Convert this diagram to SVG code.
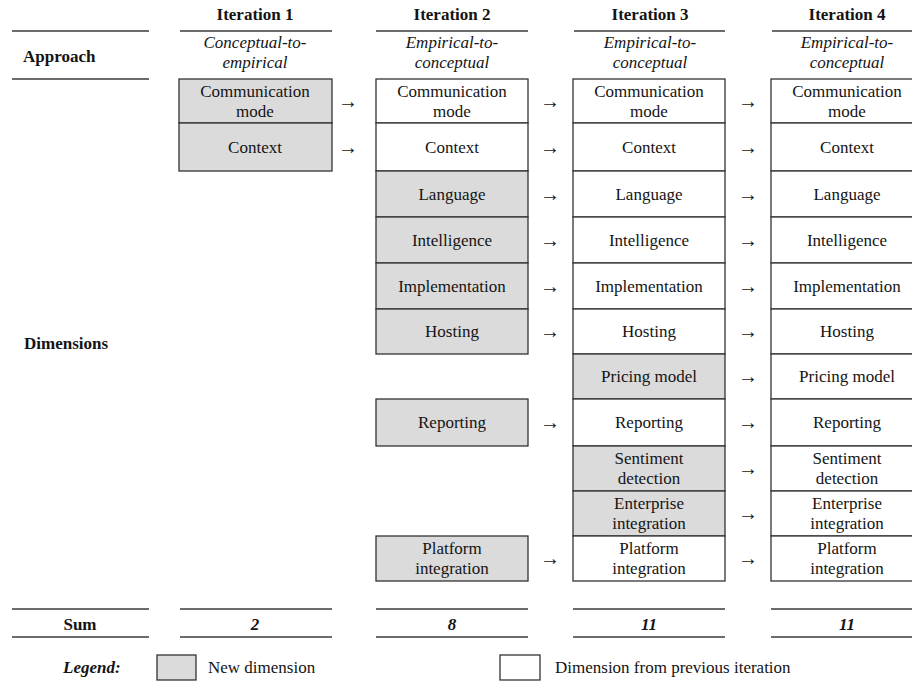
<svg xmlns="http://www.w3.org/2000/svg" width="912" height="681" viewBox="0 0 912 681">
<style>
text{font-family:"Liberation Serif","Times New Roman",serif;font-size:17px;fill:#141414}
.b{font-weight:bold}
.i{font-style:italic}
.m{text-anchor:middle}
.rule{stroke:#3a3a3a;stroke-width:1.6}
.new{fill:#dbdbdb;stroke:#333;stroke-width:1.3}
.old{fill:#ffffff;stroke:#333;stroke-width:1.3}
.arr{font-size:20px;text-anchor:middle}
</style>
<rect width="912" height="681" fill="#fff"/>

<g id="header">
<line class="rule" x1="12" y1="31" x2="149" y2="31"/>
<line class="rule" x1="12" y1="79" x2="149" y2="79"/>
<text class="b" x="23" y="62">Approach</text>
<line class="rule" x1="180" y1="31" x2="332" y2="31"/>
<line class="rule" x1="376" y1="31" x2="528" y2="31"/>
<line class="rule" x1="574" y1="31" x2="725" y2="31"/>
<line class="rule" x1="772" y1="31" x2="912" y2="31"/>
<text class="b m" x="255" y="20">Iteration 1</text>
<text class="b m" x="452" y="20">Iteration 2</text>
<text class="b m" x="650" y="20">Iteration 3</text>
<text class="b m" x="847" y="20">Iteration 4</text>
<text class="i m" x="255" y="48">Conceptual-to-</text>
<text class="i m" x="255" y="68">empirical</text>
<text class="i m" x="452" y="48">Empirical-to-</text>
<text class="i m" x="452" y="68">conceptual</text>
<text class="i m" x="650" y="48">Empirical-to-</text>
<text class="i m" x="650" y="68">conceptual</text>
<text class="i m" x="847" y="48">Empirical-to-</text>
<text class="i m" x="847" y="68">conceptual</text>
<text class="b" x="24" y="349">Dimensions</text>
</g>

<!-- Iteration 1 -->
<g id="it1-communication"><rect class="new" x="179" y="79" width="153" height="44"/><text class="m" x="255" y="97">Communication</text><text class="m" x="255" y="117">mode</text></g>
<g id="it1-context"><rect class="new" x="179" y="123" width="153" height="48"/><text class="m" x="255" y="153">Context</text></g>

<!-- Iteration 2 -->
<g id="it2-communication"><rect class="old" x="376" y="79" width="152" height="44"/><text class="m" x="452" y="97">Communication</text><text class="m" x="452" y="117">mode</text></g>
<g id="it2-context"><rect class="old" x="376" y="123" width="152" height="48"/><text class="m" x="452" y="153">Context</text></g>
<g id="it2-language"><rect class="new" x="376" y="171" width="152" height="46"/><text class="m" x="452" y="200">Language</text></g>
<g id="it2-intelligence"><rect class="new" x="376" y="217" width="152" height="46"/><text class="m" x="452" y="246">Intelligence</text></g>
<g id="it2-implementation"><rect class="new" x="376" y="263" width="152" height="46"/><text class="m" x="452" y="292">Implementation</text></g>
<g id="it2-hosting"><rect class="new" x="376" y="309" width="152" height="45"/><text class="m" x="452" y="337">Hosting</text></g>
<g id="it2-reporting"><rect class="new" x="376" y="399" width="152" height="47"/><text class="m" x="452" y="428">Reporting</text></g>
<g id="it2-platform"><rect class="new" x="376" y="536" width="152" height="45"/><text class="m" x="452" y="554">Platform</text><text class="m" x="452" y="574">integration</text></g>

<!-- Iteration 3 -->
<g id="it3-communication"><rect class="old" x="573" y="79" width="152" height="44"/><text class="m" x="649" y="97">Communication</text><text class="m" x="649" y="117">mode</text></g>
<g id="it3-context"><rect class="old" x="573" y="123" width="152" height="48"/><text class="m" x="649" y="153">Context</text></g>
<g id="it3-language"><rect class="old" x="573" y="171" width="152" height="46"/><text class="m" x="649" y="200">Language</text></g>
<g id="it3-intelligence"><rect class="old" x="573" y="217" width="152" height="46"/><text class="m" x="649" y="246">Intelligence</text></g>
<g id="it3-implementation"><rect class="old" x="573" y="263" width="152" height="46"/><text class="m" x="649" y="292">Implementation</text></g>
<g id="it3-hosting"><rect class="old" x="573" y="309" width="152" height="45"/><text class="m" x="649" y="337">Hosting</text></g>
<g id="it3-pricing"><rect class="new" x="573" y="354" width="152" height="45"/><text class="m" x="649" y="382">Pricing model</text></g>
<g id="it3-reporting"><rect class="old" x="573" y="399" width="152" height="47"/><text class="m" x="649" y="428">Reporting</text></g>
<g id="it3-sentiment"><rect class="new" x="573" y="446" width="152" height="45"/><text class="m" x="649" y="464">Sentiment</text><text class="m" x="649" y="484">detection</text></g>
<g id="it3-enterprise"><rect class="new" x="573" y="491" width="152" height="45"/><text class="m" x="649" y="509">Enterprise</text><text class="m" x="649" y="529">integration</text></g>
<g id="it3-platform"><rect class="old" x="573" y="536" width="152" height="45"/><text class="m" x="649" y="554">Platform</text><text class="m" x="649" y="574">integration</text></g>

<!-- Iteration 4 -->
<g id="it4-communication"><rect class="old" x="771" y="79" width="154" height="44"/><text class="m" x="847" y="97">Communication</text><text class="m" x="847" y="117">mode</text></g>
<g id="it4-context"><rect class="old" x="771" y="123" width="154" height="48"/><text class="m" x="847" y="153">Context</text></g>
<g id="it4-language"><rect class="old" x="771" y="171" width="154" height="46"/><text class="m" x="847" y="200">Language</text></g>
<g id="it4-intelligence"><rect class="old" x="771" y="217" width="154" height="46"/><text class="m" x="847" y="246">Intelligence</text></g>
<g id="it4-implementation"><rect class="old" x="771" y="263" width="154" height="46"/><text class="m" x="847" y="292">Implementation</text></g>
<g id="it4-hosting"><rect class="old" x="771" y="309" width="154" height="45"/><text class="m" x="847" y="337">Hosting</text></g>
<g id="it4-pricing"><rect class="old" x="771" y="354" width="154" height="45"/><text class="m" x="847" y="382">Pricing model</text></g>
<g id="it4-reporting"><rect class="old" x="771" y="399" width="154" height="47"/><text class="m" x="847" y="428">Reporting</text></g>
<g id="it4-sentiment"><rect class="old" x="771" y="446" width="154" height="45"/><text class="m" x="847" y="464">Sentiment</text><text class="m" x="847" y="484">detection</text></g>
<g id="it4-enterprise"><rect class="old" x="771" y="491" width="154" height="45"/><text class="m" x="847" y="509">Enterprise</text><text class="m" x="847" y="529">integration</text></g>
<g id="it4-platform"><rect class="old" x="771" y="536" width="154" height="45"/><text class="m" x="847" y="554">Platform</text><text class="m" x="847" y="574">integration</text></g>

<g id="connectors">
<text class="arr" x="348" y="108">→</text>
<text class="arr" x="348" y="154">→</text>
<text class="arr" x="550" y="108">→</text>
<text class="arr" x="550" y="154">→</text>
<text class="arr" x="550" y="201">→</text>
<text class="arr" x="550" y="247">→</text>
<text class="arr" x="550" y="293">→</text>
<text class="arr" x="550" y="338">→</text>
<text class="arr" x="550" y="429">→</text>
<text class="arr" x="550" y="565">→</text>
<text class="arr" x="748" y="108">→</text>
<text class="arr" x="748" y="154">→</text>
<text class="arr" x="748" y="201">→</text>
<text class="arr" x="748" y="247">→</text>
<text class="arr" x="748" y="293">→</text>
<text class="arr" x="748" y="338">→</text>
<text class="arr" x="748" y="383">→</text>
<text class="arr" x="748" y="429">→</text>
<text class="arr" x="748" y="475">→</text>
<text class="arr" x="748" y="520">→</text>
<text class="arr" x="748" y="565">→</text>
</g>

<g id="sum">
<line class="rule" x1="12" y1="609" x2="149" y2="609"/>
<line class="rule" x1="12" y1="637" x2="149" y2="637"/>
<line class="rule" x1="180" y1="609" x2="332" y2="609"/>
<line class="rule" x1="180" y1="637" x2="332" y2="637"/>
<line class="rule" x1="376" y1="609" x2="528" y2="609"/>
<line class="rule" x1="376" y1="637" x2="528" y2="637"/>
<line class="rule" x1="573" y1="609" x2="725" y2="609"/>
<line class="rule" x1="573" y1="637" x2="725" y2="637"/>
<line class="rule" x1="771" y1="609" x2="912" y2="609"/>
<line class="rule" x1="771" y1="637" x2="912" y2="637"/>
<text class="b m" x="80" y="630">Sum</text>
<text class="b i m" x="255" y="630">2</text>
<text class="b i m" x="452" y="630">8</text>
<text class="b i m" x="649" y="630">11</text>
<text class="b i m" x="847" y="630">11</text>
</g>

<g id="legend">
<text class="b i" x="63" y="673">Legend:</text>
<rect class="new" x="157" y="655" width="39" height="25"/>
<text x="208" y="673">New dimension</text>
<rect class="old" x="500" y="655" width="40" height="25"/>
<text x="555" y="673">Dimension from previous iteration</text>
</g>
</svg>
